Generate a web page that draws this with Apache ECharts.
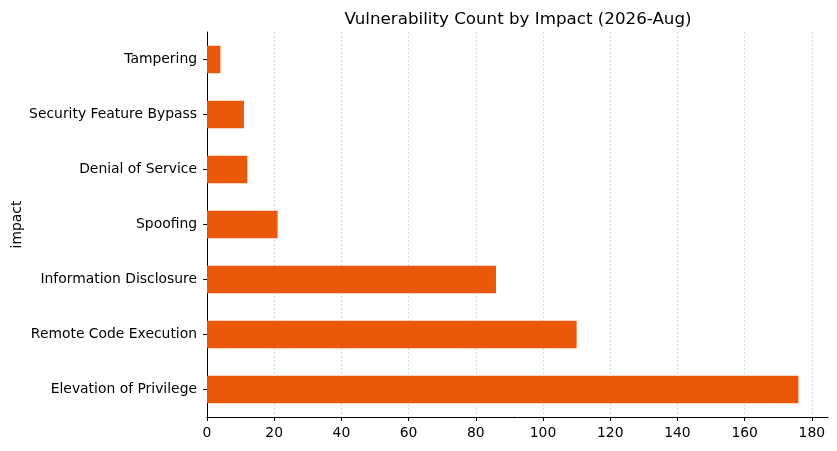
<!DOCTYPE html>
<html>
<head>
<meta charset="utf-8">
<script src="https://cdn.jsdelivr.net/npm/echarts@6/dist/echarts.min.js"></script>
<style>
  html, body { margin: 0; padding: 0; background: #fff; }
  #main { width: 837px; height: 451px; }
</style>
</head>
<body>
<div id="main"></div>
<script>
// data, bottom to top (as drawn)
var impacts = ['Elevation of Privilege', 'Remote Code Execution', 'Information Disclosure',
               'Spoofing', 'Denial of Service', 'Security Feature Bypass', 'Tampering'];
var counts = [176, 110, 86, 21, 12, 11, 4];
var xTicks = [0, 20, 40, 60, 80, 100, 120, 140, 160, 180];

var chartTitle = 'Vulnerability Count by Impact (2026-Aug)';
var font = 'DejaVu Sans';

var myChart = echarts.init(document.getElementById('main'));

var option = {
    animation: false,
    backgroundColor: '#ffffff',
    textStyle: { fontFamily: font },
    title: {
        text: chartTitle,
        left: 513,
        textAlign: 'center',
        top: 6,
        textStyle: { fontFamily: font, fontSize: 16.7, fontWeight: 'normal', color: '#000' }
    },
    grid: { left: 207, right: 9, top: 32, bottom: 34, containLabel: false, outerBoundsMode: 'none' },
    xAxis: {
        type: 'value',
        min: 0,
        max: 184.8,
        interval: 20,
        axisLine: { show: true, lineStyle: { color: '#000', width: 1 } },
        axisTick: { show: true, length: 4, lineStyle: { color: '#000' },
                    customValues: xTicks },
        axisLabel: { customValues: xTicks, color: '#000', fontSize: 13.9, fontFamily: font, margin: 9 },
        splitLine: { show: true, lineStyle: { color: '#d0d0d0', type: [2, 2], width: 0.8 } }
    },
    yAxis: {
        type: 'category',
        data: impacts,
        name: 'impact',
        nameLocation: 'middle',
        nameGap: 183,
        nameRotate: 90,
        nameMoveOverlap: false,
        nameTextStyle: { color: '#000', fontSize: 13.9, fontFamily: font },
        axisLine: { show: true, lineStyle: { color: '#000', width: 1 } },
        axisTick: { show: true, alignWithLabel: true, length: 4, lineStyle: { color: '#000' } },
        axisLabel: { color: '#000', fontSize: 13.9, fontFamily: font, margin: 10 },
        splitLine: { show: false }
    },
    series: [{
        name: 'count',
        type: 'bar',
        data: counts,
        barWidth: '50%',
        itemStyle: { color: '#EA580C' }
    }]
};

myChart.setOption(option);

window.addEventListener('resize', function () {
    myChart.resize();
});
</script>
</body>
</html>
